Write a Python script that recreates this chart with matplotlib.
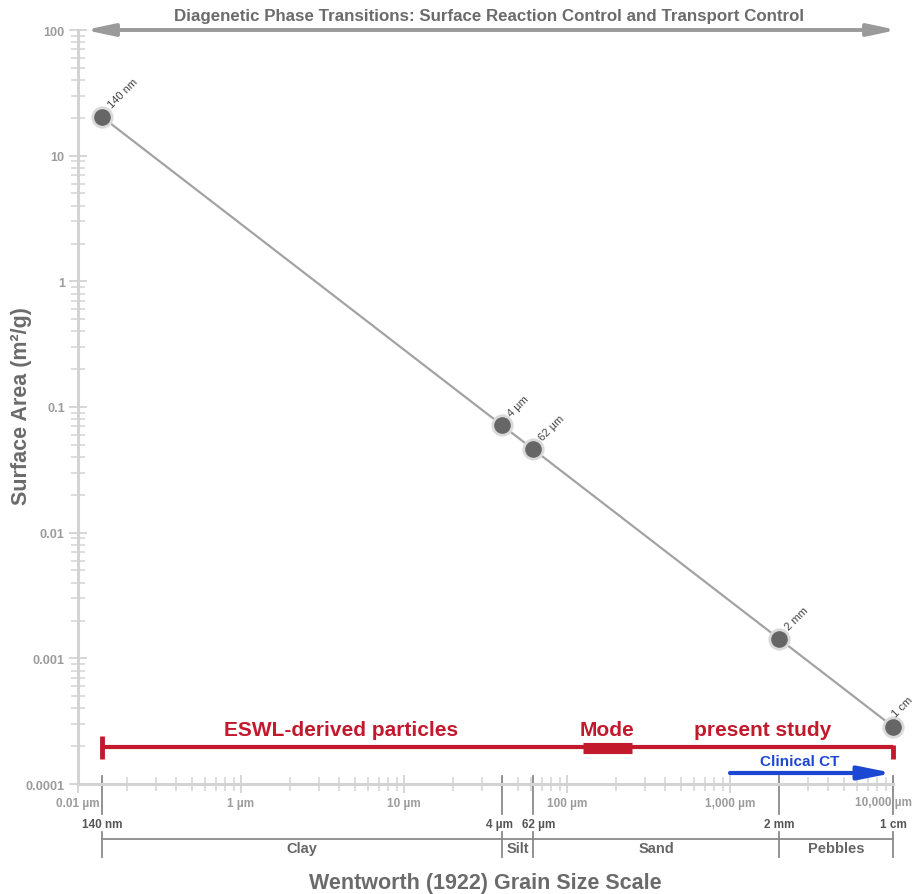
import matplotlib
matplotlib.use('Agg')
import matplotlib.pyplot as plt
from matplotlib import transforms
from matplotlib.ticker import NullFormatter, LogLocator
import numpy as np

plt.rcParams['font.family'] = ['Liberation Sans', 'DejaVu Sans']

# ---------------- data ----------------
grain_um = [0.14, 40, 62, 2000, 10000]
point_labels = ['140 nm', '4 µm', '62 µm', '2 mm', '1 cm']
surface_area = [20.4, 0.0714, 0.0461, 0.00143, 0.000286]

xtick_vals = [0.1, 1, 10, 100, 1000, 10000]
xtick_labels = ['0.01 µm', '1 µm', '10 µm', '100 µm', '1,000 µm', '10,000 µm']
ytick_vals = [1e-4, 1e-3, 1e-2, 1e-1, 1, 10, 100]
ytick_labels = ['0.0001', '0.001', '0.01', '0.1', '1', '10', '100']

boundary_um = [0.14, 40, 62, 2000, 10000]
boundary_labels = ['140 nm', '4 µm', '62 µm', '2 mm', '1 cm']
classes = ['Clay', 'Silt', 'Sand', 'Pebbles']

eswl_range = [0.14, 10000]
mode_range = [125, 250]
ct_range = [1000, 10000]

title_text = 'Diagenetic Phase Transitions: Surface Reaction Control and Transport Control'

# ---------------- layout ----------------
W, H = 918, 895
fig = plt.figure(figsize=(W / 100, H / 100), dpi=100)
ax = fig.add_axes([78 / W, 1 - 785 / H, (893 - 78) / W, (785 - 31) / H])
ax.set_xscale('log')
ax.set_yscale('log')
ax.set_xlim(0.1, 10000)
ax.set_ylim(1e-4, 100)


def fy(py):
    return 1 - py / H


bt = transforms.blended_transform_factory(ax.transData, fig.transFigure)

GRAY_AX = '#d3d3d3'
RED = '#c2192d'
BLUE = '#1c47d3'

for s in ['top', 'right']:
    ax.spines[s].set_visible(False)
for s in ['left', 'bottom']:
    ax.spines[s].set_color(GRAY_AX)
    ax.spines[s].set_linewidth(2.2)

ax.set_xticks(xtick_vals)
ax.set_xticklabels(xtick_labels[:-1] + [''])
ax.set_yticks(ytick_vals)
ax.set_yticklabels(ytick_labels)
ax.xaxis.set_minor_locator(LogLocator(base=10, subs=np.arange(2, 10)))
ax.yaxis.set_minor_locator(LogLocator(base=10, subs=np.arange(2, 10)))
ax.xaxis.set_minor_formatter(NullFormatter())
ax.yaxis.set_minor_formatter(NullFormatter())
ax.tick_params(which='major', direction='inout', length=13, width=1.3,
               color=GRAY_AX, labelcolor='#9c9c9c')
ax.tick_params(axis='x', which='major', labelsize=8.5, pad=3)
ax.tick_params(axis='y', which='major', labelsize=9.2, pad=3)
ax.tick_params(which='minor', direction='inout', length=10, width=1.1, color=GRAY_AX)
for lbl in ax.get_xticklabels() + ax.get_yticklabels():
    lbl.set_fontweight('bold')
# last x tick label, nudged left so it stays inside the figure
ax.annotate(xtick_labels[-1], (xtick_vals[-1], fy(803)), xycoords=bt,
            xytext=(-7, 0), textcoords='offset points', ha='center', va='center',
            fontsize=8.5, fontweight='bold', color='#9c9c9c', annotation_clip=False)

# data line and points
ax.plot(grain_um, surface_area, color='#a3a3a3', lw=1.6, zorder=2)
ax.plot(grain_um, surface_area, 'o', ms=14, mfc='#666666', mec='#dadada', mew=2,
        zorder=3, clip_on=False)
label_offsets = [(8, 5), (8, 5), (8, 5), (8, 5), (3, 6)]
for x, y, lab, off in zip(grain_um, surface_area, point_labels, label_offsets):
    ax.annotate(lab, (x, y), xytext=off, textcoords='offset points',
                rotation=45, rotation_mode='anchor', ha='left', va='bottom',
                fontsize=8, color='#444444', annotation_clip=False)

# top double arrow and title
ax.annotate('', xy=(85 / W, fy(31)), xytext=(897 / W, fy(31)),
            xycoords='figure fraction', textcoords='figure fraction',
            arrowprops=dict(arrowstyle='<|-|>,head_length=0.85,head_width=0.18',
                            mutation_scale=20, color='#9a9a9a', lw=2.8,
                            shrinkA=0, shrinkB=0))
fig.text(489 / W, fy(16), title_text, ha='center', va='center', fontsize=12.2,
         fontweight='bold', color='#6b6b6b')

# red ESWL range with mode
ax.plot(eswl_range, [fy(748)] * 2, transform=bt, color=RED, lw=3, clip_on=False,
        solid_capstyle='butt')
ax.plot([eswl_range[0]] * 2, [fy(737), fy(760)], transform=bt, color=RED, lw=3.5,
        clip_on=False, solid_capstyle='butt')
ax.plot([eswl_range[1]] * 2, [fy(746), fy(760)], transform=bt, color=RED, lw=3.5,
        clip_on=False, solid_capstyle='butt')
ax.plot(mode_range, [fy(749)] * 2, transform=bt, color=RED, lw=8, clip_on=False,
        solid_capstyle='butt')
fig.text(341 / W, fy(731), 'ESWL-derived particles', ha='center', va='center',
         fontsize=15, fontweight='bold', color=RED)
ax.text(np.sqrt(mode_range[0] * mode_range[1]), fy(731), 'Mode', transform=bt,
        ha='center', va='center', fontsize=15, fontweight='bold', color=RED)
fig.text(763 / W, fy(731), 'present study', ha='center', va='center',
         fontsize=15, fontweight='bold', color=RED)

# clinical CT arrow
ax.annotate('', xy=(ct_range[1], fy(774)), xytext=(ct_range[0], fy(774)),
            xycoords=bt, textcoords=bt,
            arrowprops=dict(arrowstyle='-|>,head_length=1.0,head_width=0.2',
                            mutation_scale=20, color=BLUE, lw=3,
                            shrinkA=0, shrinkB=0), annotation_clip=False)
fig.text(800 / W, fy(762), 'Clinical CT', ha='center', va='center',
         fontsize=11, fontweight='bold', color=BLUE)

# Wentworth scale boundaries
label_dx = [0, -2, 4, 0, 0]
for b, lab, dx in zip(boundary_um, boundary_labels, label_dx):
    ax.plot([b, b], [fy(777), fy(815)], transform=bt, color='#8a8a8a', lw=1.3,
            clip_on=False)
    ax.plot([b, b], [fy(833), fy(858)], transform=bt, color='#8a8a8a', lw=1.3,
            clip_on=False)
    ax.annotate(lab, (b, fy(825)), xycoords=bt, xytext=(dx, 0),
                textcoords='offset points', ha='center', va='center',
                fontsize=8.5, fontweight='bold', color='#555555',
                annotation_clip=False)
ax.plot([boundary_um[0], boundary_um[-1]], [fy(840)] * 2, transform=bt,
        color='#8a8a8a', lw=1.3, clip_on=False)
for i, c in enumerate(classes):
    xc = np.sqrt(boundary_um[i] * boundary_um[i + 1])
    ax.text(xc, fy(849), c, transform=bt, ha='center', va='center',
            fontsize=10.5, fontweight='bold', color='#666666')

fig.text(485 / W, fy(884), 'Wentworth (1922) Grain Size Scale', ha='center',
         va='center', fontsize=15.5, fontweight='bold', color='#6b6b6b')
fig.text(22 / W, fy(406), 'Surface Area (m²/g)', ha='center', va='center',
         rotation=90, fontsize=15.5, fontweight='bold', color='#6b6b6b')

fig.savefig('out.png', dpi=100)
